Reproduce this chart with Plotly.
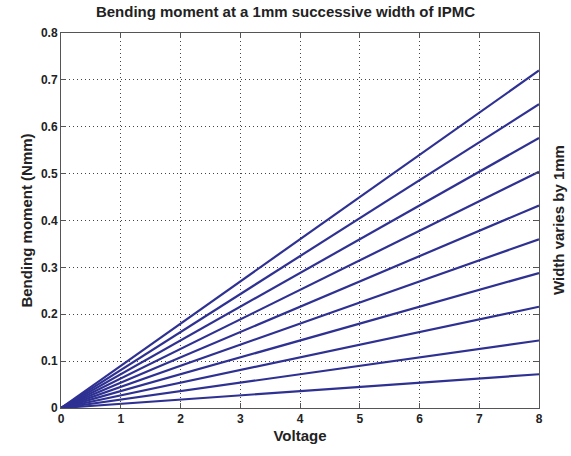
import plotly.graph_objects as go

voltage = [0, 8]
end_moments = [0.072, 0.144, 0.216, 0.288, 0.360, 0.432, 0.504, 0.576, 0.648, 0.720]
series = [[0.0, m] for m in end_moments]
x_ticks = [0, 1, 2, 3, 4, 5, 6, 7, 8]
y_ticks = [0, 0.1, 0.2, 0.3, 0.4, 0.5, 0.6, 0.7, 0.8]
y_labels = ["0", "0.1", "0.2", "0.3", "0.4", "0.5", "0.6", "0.7", "0.8"]

fig = go.Figure()
for ys in series:
    fig.add_trace(go.Scatter(x=voltage, y=ys, mode="lines",
                             line=dict(color="#2E3192", width=2.2),
                             showlegend=False))

font_b = "Liberation Sans, Arial, sans-serif"
axis_common = dict(showline=True, linecolor="#555555", linewidth=1, mirror="ticks",
                   ticks="inside", ticklen=5, tickcolor="#555555",
                   showgrid=True, gridcolor="#444444", griddash="1px,3px", gridwidth=1,
                   zeroline=False,
                   tickfont=dict(family=font_b, size=12, color="#222222", weight="bold"))

fig.update_layout(
    width=571, height=456,
    margin=dict(l=61, r=32, t=33, b=48),
    paper_bgcolor="white", plot_bgcolor="white",
    title=dict(text="<b>Bending moment at a 1mm successive width of IPMC</b>",
               x=0.5, xanchor="center", y=0.985, yanchor="top",
               font=dict(family=font_b, size=15, color="#222222")),
    xaxis=dict(range=[0, 8], tickvals=x_ticks,
               title=dict(text="<b>Voltage</b>", standoff=5,
                          font=dict(family=font_b, size=15, color="#222222")),
               **axis_common),
    yaxis=dict(range=[0, 0.8], tickvals=y_ticks, ticktext=y_labels,
               title=dict(text="<b>Bending moment (Nmm)</b>", standoff=4,
                          font=dict(family=font_b, size=15, color="#222222")),
               **axis_common),
)
fig.add_annotation(text="<b>Width varies by 1mm</b>", xref="paper", yref="paper",
                   x=(569 - 61) / 478, y=0.5, xanchor="right", yanchor="middle",
                   textangle=-90, showarrow=False,
                   font=dict(family=font_b, size=15, color="#222222"))

fig.write_html("out.html")
